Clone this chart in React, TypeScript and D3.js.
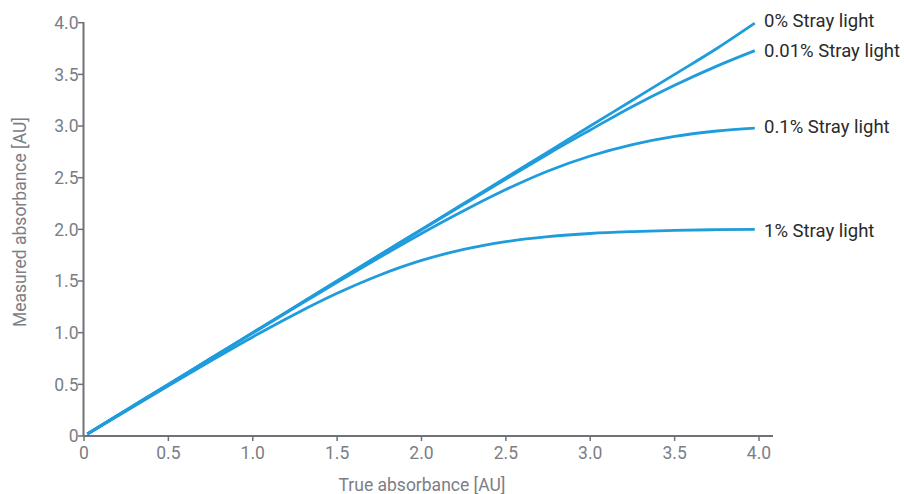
import React from "react";
import * as d3 from "d3";

const trueAbs = [0.02, 0.25, 0.5, 0.75, 1.0, 1.25, 1.5, 1.75, 2.0, 2.25, 2.5, 2.75, 3.0, 3.25, 3.5, 3.75, 3.975];
const stray0 = [0.02, 0.25, 0.5, 0.75, 1.0, 1.25, 1.5, 1.75, 2.0, 2.25, 2.5, 2.75, 3.0, 3.25, 3.5, 3.75, 3.995];
const stray001 = [0.02, 0.25, 0.5, 0.75, 1.0, 1.25, 1.5, 1.75, 1.996, 2.242, 2.487, 2.73, 2.962, 3.19, 3.395, 3.58, 3.73];
const stray01 = [0.02, 0.25, 0.499, 0.748, 0.996, 1.243, 1.487, 1.727, 1.96, 2.18, 2.385, 2.565, 2.71, 2.82, 2.9, 2.952, 2.98];
const stray1 = [0.02, 0.242, 0.487, 0.726, 0.959, 1.179, 1.381, 1.556, 1.699, 1.806, 1.881, 1.929, 1.96, 1.978, 1.99, 1.997, 2.0];
const seriesLabels = ["0% Stray light", "0.01% Stray light", "0.1% Stray light", "1% Stray light"];
const xTicks = [0, 0.5, 1.0, 1.5, 2.0, 2.5, 3.0, 3.5, 4.0];
const yTicks = [0, 0.5, 1.0, 1.5, 2.0, 2.5, 3.0, 3.5, 4.0];

const W = 904, H = 494;
const labelShift = [-3, 0, -2, 1];

export default function App() {
  const x = d3.scaleLinear().domain([0, 4]).range([84, 759]);
  const y = d3.scaleLinear().domain([0, 4]).range([436, 22.7]);
  const line = d3.line<[number, number]>().x(d => x(d[0])).y(d => y(d[1])).curve(d3.curveMonotoneX);
  const all = [stray0, stray001, stray01, stray1];
  const axisColor = "#6f7278";
  const tickText = "#7b7e85";
  const font = "Roboto, sans-serif";
  return (
    <svg width={W} height={H} style={{ position: "absolute", left: 0, top: 0, background: "#fff" }} fontFamily={font}>
      {all.map((s, i) => (
        <path key={i} d={line(trueAbs.map((t, j) => [t, s[j]]) as [number, number][]) || ""} fill="none" stroke="#1f9cdb" strokeWidth={2.8} />
      ))}
      {all.map((s, i) => (
        <text key={"l" + i} x={764} y={y(s[s.length - 1]) + labelShift[i]} dy="0.36em" fontSize={18.5} fill="#2a2a2a">{seriesLabels[i]}</text>
      ))}
      <line x1={83.5} x2={83.5} y1={22} y2={436} stroke={axisColor} strokeWidth={2} />
      <line x1={83.5} x2={773} y1={436} y2={436} stroke={axisColor} strokeWidth={2} />
      {yTicks.map(t => (
        <g key={"y" + t}>
          <line x1={78} x2={83} y1={y(t)} y2={y(t)} stroke={axisColor} strokeWidth={1.5} />
          <text x={78.5} y={y(t)} dy="0.36em" textAnchor="end" fontSize={17.5} fill={tickText}>{t === 0 ? "0" : t.toFixed(1)}</text>
        </g>
      ))}
      {xTicks.map(t => (
        <g key={"x" + t}>
          <line x1={x(t)} x2={x(t)} y1={436} y2={441} stroke={axisColor} strokeWidth={1.5} />
          <text x={x(t)} y={453} dy="0.36em" textAnchor="middle" fontSize={17.5} fill={tickText}>{t === 0 ? "0" : t.toFixed(1)}</text>
        </g>
      ))}
      <text x={422} y={485} dy="0.36em" textAnchor="middle" fontSize={17.5} fill={tickText}>True absorbance [AU]</text>
      <text transform="translate(20,222) rotate(-90)" dy="0.36em" textAnchor="middle" fontSize={17.5} fill={tickText}>Measured absorbance [AU]</text>
    </svg>
  );
}
